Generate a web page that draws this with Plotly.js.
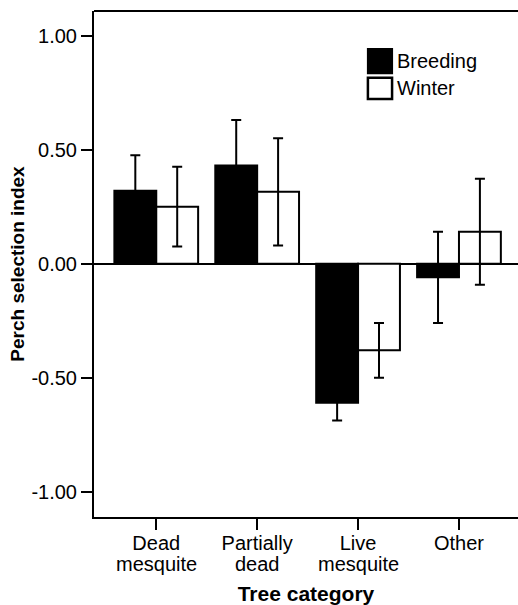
<!DOCTYPE html>
<html>
<head>
<meta charset="utf-8">
<script src="https://cdn.plot.ly/plotly-3.0.1.min.js"></script>
<style>
html,body{margin:0;padding:0;background:#fff;overflow:hidden;}
#chart{width:518px;height:605px;}
</style>
</head>
<body>
<div id="chart"></div>
<script>
const categories = ["Dead mesquite", "Partially dead", "Live mesquite", "Other"];
const tickLine1 = ["Dead", "Partially", "Live", "Other"];
const tickLine2 = ["mesquite", "dead", "mesquite", ""];
const breeding = [0.32, 0.43, -0.61, -0.06];
const breedingErr = [0.155, 0.20, 0.078, 0.20];
const winter = [0.25, 0.315, -0.38, 0.14];
const winterErr = [0.175, 0.235, 0.12, 0.232];
const yTickVals = [1, 0.5, 0, -0.5, -1];
const yTickText = ["1.00", "0.50", "0.00", "-0.50", "-1.00"];
const seriesNames = ["Breeding", "Winter"];

const FONT = "Liberation Sans, Arial, Helvetica, sans-serif";

const traces = [
  {
    type: "bar", name: seriesNames[0], x: categories, y: breeding,
    marker: {color: "#000000", line: {color: "#000000", width: 2}},
    error_y: {type: "data", array: breedingErr, visible: true, color: "#000000", thickness: 2, width: 5},
    showlegend: false
  },
  {
    type: "bar", name: seriesNames[1], x: categories, y: winter,
    marker: {color: "#ffffff", line: {color: "#000000", width: 2}},
    error_y: {type: "data", array: winterErr, visible: true, color: "#000000", thickness: 2, width: 5},
    showlegend: false
  }
];

const secondLineAnnotations = categories.map((c, i) => ({
  xref: "x", yref: "paper", x: c, y: -0.068, xanchor: "center", yanchor: "top",
  text: tickLine2[i], showarrow: false, font: {family: FONT, size: 20, color: "#000"}
}));

const layout = {
  width: 518, height: 605,
  margin: {l: 94, r: 0, t: 11, b: 88, pad: 0},
  paper_bgcolor: "#ffffff", plot_bgcolor: "#ffffff",
  font: {family: FONT, size: 20, color: "#000000"},
  barmode: "group", bargap: 0.17, bargroupgap: 0,
  showlegend: false,
  xaxis: {
    type: "category", range: [-0.617, 3.585], autorange: false,
    tickvals: categories, ticktext: tickLine1,
    ticks: "outside", ticklen: 11, tickwidth: 2, tickcolor: "#000",
    ticklabelstandoff: -4,
    showline: true, linewidth: 2, linecolor: "#000", showgrid: false, zeroline: false,
    tickfont: {family: FONT, size: 20, color: "#000"},
    title: {text: "<b>Tree category</b>", font: {family: FONT, size: 21, color: "#000"}, standoff: 36},
    automargin: false, fixedrange: true
  },
  yaxis: {
    range: [-1.111, 1.108], autorange: false,
    tickvals: yTickVals, ticktext: yTickText,
    ticks: "outside", ticklen: 11, tickwidth: 2, tickcolor: "#000",
    showline: true, linewidth: 2, linecolor: "#000", showgrid: false,
    zeroline: true, zerolinecolor: "#000", zerolinewidth: 2,
    tickfont: {family: FONT, size: 20, color: "#000"},
    title: {text: "<b>Perch selection index</b>", font: {family: FONT, size: 19, color: "#000"}, standoff: 2},
    automargin: false, fixedrange: true
  },
  shapes: [
    {type: "line", xref: "paper", yref: "paper", x0: 0, x1: 1, y0: 1, y1: 1, line: {color: "#000", width: 2}},
    {type: "rect", xref: "paper", yref: "paper", x0: 0.646, x1: 0.703, y0: 0.877, y1: 0.925, fillcolor: "#000", line: {color: "#000", width: 2}},
    {type: "rect", xref: "paper", yref: "paper", x0: 0.646, x1: 0.703, y0: 0.826, y1: 0.868, fillcolor: "#fff", line: {color: "#000", width: 2.5}}
  ],
  annotations: [
    {xref: "paper", yref: "paper", x: 0.71, y: 0.901, xanchor: "left", yanchor: "middle", text: seriesNames[0], showarrow: false, font: {family: FONT, size: 20, color: "#000"}},
    {xref: "paper", yref: "paper", x: 0.71, y: 0.847, xanchor: "left", yanchor: "middle", text: seriesNames[1], showarrow: false, font: {family: FONT, size: 20, color: "#000"}}
  ].concat(secondLineAnnotations)
};

Plotly.newPlot("chart", traces, layout, {staticPlot: true, displayModeBar: false});
</script>
</body>
</html>
